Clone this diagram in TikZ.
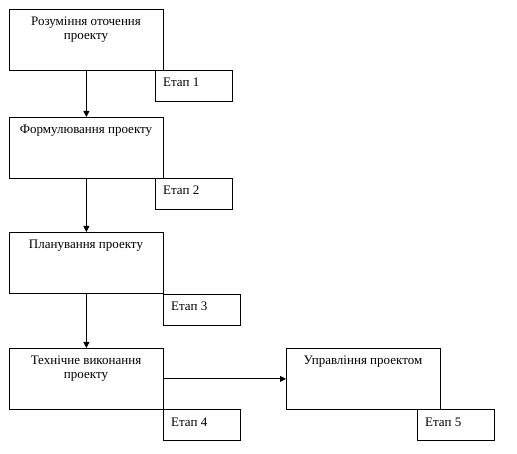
\documentclass[tikz,border=0pt]{standalone}
\usepackage{fontspec}
\setmainfont{Liberation Serif}
\usetikzlibrary{arrows.meta}
\begin{document}
\begin{tikzpicture}[x=1pt,y=-1pt,
  box/.style={draw, line width=0.8pt, minimum width=154pt, minimum height=61pt, inner sep=0pt, anchor=north west},
  etapbox/.style={draw, line width=0.8pt, minimum width=77pt, minimum height=31pt, inner sep=0pt, anchor=north west},
  boxtext/.style={anchor=north, inner sep=0pt, align=center, font=\fontsize{13}{14}\selectfont},
  etaptext/.style={anchor=base west, inner sep=0pt, font=\fontsize{13}{14}\selectfont},
  conn/.style={line width=0.8pt, -{Triangle[length=6pt,width=6pt]}}]
\useasboundingbox (0,0) rectangle (517,454);
\fill[white] (0,0) rectangle (517,454);
% main boxes
\node[box] (b1) at (9,9) {};
\node[box] (b2) at (9,117) {};
\node[box] (b3) at (9,232) {};
\node[box] (b4) at (9,348) {};
\node[box] (b5) at (286,348) {};
% stage boxes
\node[etapbox] (e1) at (155,70) {};
\node[etapbox] (e2) at (155,178) {};
\node[etapbox] (e3) at (163,294) {};
\node[etapbox] (e4) at (163,409) {};
\node[etapbox] (e5) at (417,409) {};
% box texts
\node[boxtext] (t1) at (86,17) {Розуміння оточення\\проекту};
\node[boxtext] (t2) at (86,125) {Формулювання проекту};
\node[boxtext] (t3) at (86,240) {Планування проекту};
\node[boxtext] (t4) at (86,356) {Технічне виконання\\проекту};
\node[boxtext] (t5) at (363,356) {Управління проектом};
% stage texts
\node[etaptext] (s1) at (163,87) {Етап 1};
\node[etaptext] (s2) at (163,195) {Етап 2};
\node[etaptext] (s3) at (171,311) {Етап 3};
\node[etaptext] (s4) at (171,426) {Етап 4};
\node[etaptext] (s5) at (425,426) {Етап 5};
% connectors
\draw[conn] (b1.south) -- (b2.north);
\draw[conn] (b2.south) -- (b3.north);
\draw[conn] (b3.south) -- (b4.north);
\draw[conn] (b4.east) -- (b5.west);
\end{tikzpicture}
\end{document}
